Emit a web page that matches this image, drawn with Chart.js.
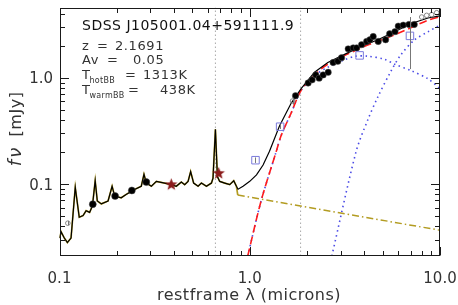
<!DOCTYPE html>
<html lang="en">
<head>
<meta charset="UTF-8">
<title>SED fit</title>
<style>
  body { margin: 0; background: #ffffff; }
  canvas { display: block; }
</style>
</head>
<body>
<canvas id="sed" width="458" height="305"></canvas>

<script src="https://cdn.jsdelivr.net/npm/chart.js"></script>
<script>
// rest-frame wavelength in microns, flux in mJy

// observed spectrum
const specWave = [0.100, 0.102, 0.106, 0.110, 0.115, 0.121, 0.127, 0.133, 0.138, 0.144, 0.149, 0.154, 0.158, 0.166, 0.180,
                  0.189, 0.195, 0.211, 0.224, 0.248, 0.269, 0.278, 0.286, 0.304, 0.323, 0.357, 0.387, 0.411, 0.437, 0.455,
                  0.474, 0.489, 0.507, 0.535, 0.557, 0.592, 0.629, 0.641, 0.660, 0.676, 0.695, 0.739, 0.785, 0.824, 0.851];
const specFlux = [0.0310, 0.0354, 0.0310, 0.0281, 0.0310, 0.0932, 0.0487, 0.0504, 0.0561, 0.0541, 0.0624, 0.1075, 0.0693, 0.0650, 0.0693,
                  0.0953, 0.0771, 0.0743, 0.0799, 0.0888, 0.0953, 0.1236, 0.1021, 0.0953, 0.1059, 0.1021, 0.0987, 0.0953, 0.1043, 0.0987,
                  0.1059, 0.1308, 0.1021, 0.0953, 0.1021, 0.0953, 0.1021, 0.1136, 0.3274, 0.1177, 0.1059, 0.1021, 0.0987, 0.1075, 0.0953];

// total model beyond the spectrum
const modelWave = [0.868, 0.922, 1.000, 1.085, 1.175, 1.270, 1.433, 1.650, 1.862, 2.190, 2.573, 3.150, 3.853, 4.718, 5.776, 7.060, 8.650, 10.0];
const modelFlux = [0.0893, 0.0952, 0.106, 0.122, 0.151, 0.204, 0.352, 0.576, 0.792, 1.128, 1.394, 1.663, 1.980, 2.285, 2.723, 3.254, 3.664, 3.840];

// accretion disk power law
const diskWave = [0.865, 1.849, 10.0];
const diskFlux = [0.0787, 0.0621, 0.0367];

// hot + warm dust (red)
const dustWave = [0.976, 1.147, 1.375, 1.461, 1.650, 1.862, 2.190, 2.573, 3.853, 5.776, 8.650, 10.0];
const dustFlux = [0.021, 0.0693, 0.200, 0.285, 0.466, 0.764, 1.070, 1.345, 1.916, 2.540, 3.490, 3.760];

// hot blackbody
const hotWave = [0.976, 1.147, 1.375, 1.461, 1.650, 1.862, 2.190, 2.573, 3.150, 3.600, 4.180, 5.117, 5.776, 7.060, 8.650, 10.0];
const hotFlux = [0.021, 0.0693, 0.200, 0.285, 0.466, 0.760, 1.050, 1.260, 1.480, 1.600, 1.600, 1.496, 1.345, 1.167, 0.979, 0.792];

// warm blackbody
const warmWave = [2.700, 3.627, 4.180, 4.718, 5.540, 6.250, 7.360, 8.650, 10.0];
const warmFlux = [0.021, 0.204, 0.405, 0.664, 1.167, 1.663, 2.285, 2.720, 3.140];

// photometry
const uvWave = [0.1496, 0.196, 0.240, 0.286];
const uvFlux = [0.0646, 0.0771, 0.0870, 0.1043];
const irWave = [1.740, 2.027, 2.128, 2.225, 2.316, 2.431, 2.584, 2.744, 2.904, 3.038, 3.291, 3.498, 3.644, 3.871,
                4.114, 4.282, 4.456, 4.735, 5.178, 5.436, 5.797, 6.033, 6.410, 6.869, 7.322];
const irFlux = [0.679, 0.894, 0.958, 1.066, 0.994, 1.066, 1.128, 1.394, 1.434, 1.550, 1.876, 1.916, 1.916, 2.055,
                2.204, 2.285, 2.449, 2.204, 2.285, 2.600, 2.724, 3.073, 3.139, 3.186, 3.186];
const starWave = [0.387, 0.687];
const starFlux = [0.0987, 0.126];
const sqWave = [1.072, 1.444, 3.78, 6.95];
const sqFlux = [0.1677, 0.3467, 1.628, 2.486];
const greyWave = [0.1106, 1.678, 8.013, 8.51, 9.04, 9.61];
const greyFlux = [0.0428, 0.605, 3.742, 3.88, 3.94, 4.11];

// error bars
const errWave = [6.95, 1.678, 1.072, 1.444, 0.1106];
const errLo = [1.21, 0.56, 0.158, 0.33, 0.041];
const errHi = [3.74, 0.65, 0.178, 0.365, 0.045];

// dotted vertical markers
const markWave = [0.66, 1.85];

// axes
const xMin = 0.1, xMax = 10;
const yMin = 0.021, yMax = 4.6;
const xMajor = [0.1, 1, 10];
const xLabels = ['0.1', '1.0', '10.0'];
const yMajor = [0.1, 1];
const yLabels = ['0.1', '1.0'];

const pts = (xs, ys) => xs.map((v, i) => ({x: v, y: ys[i]}));

function minorTicks(lo, hi) {
    const out = [];
    for (let d = Math.floor(Math.log10(lo)); d < Math.ceil(Math.log10(hi)); d++) {
        for (let m = 2; m <= 9; m++) {
            const v = m * Math.pow(10, d);
            if (v > lo && v < hi) out.push(v);
        }
    }
    return out;
}

function makeStar(r, color) {
    const c = document.createElement('canvas');
    c.width = c.height = 2 * r + 2;
    const g = c.getContext('2d');
    g.fillStyle = color;
    g.beginPath();
    for (let i = 0; i < 10; i++) {
        const rr = i % 2 ? r * 0.42 : r;
        const a = -Math.PI / 2 + i * Math.PI / 5;
        g.lineTo(r + 1 + rr * Math.cos(a), r + 1 + rr * Math.sin(a));
    }
    g.closePath();
    g.fill();
    return c;
}

const olive = '#b39c22';
const dustBlue = '#4a4ae6';

// frame, inward ticks, labels and annotations
const decor = {
    id: 'decor',
    afterDatasetsDraw(chart) {
        const {ctx, chartArea: a, scales: {x, y}} = chart;
        ctx.save();

        // error bars
        ctx.strokeStyle = '#777777';
        ctx.lineWidth = 1;
        ctx.beginPath();
        errWave.forEach((w, i) => {
            const px = Math.round(x.getPixelForValue(w)) + 0.5;
            ctx.moveTo(px, y.getPixelForValue(errLo[i]));
            ctx.lineTo(px, y.getPixelForValue(errHi[i]));
        });
        ctx.stroke();

        const L = Math.round(a.left) + 0.5, R = Math.round(a.right) - 0.5;
        const T = Math.round(a.top) + 0.5, B = Math.round(a.bottom) - 0.5;
        ctx.strokeStyle = '#1a1a1a';
        ctx.lineWidth = 1;
        ctx.strokeRect(L, T, R - L, B - T);

        ctx.beginPath();
        const xt = (v, len) => {
            const px = Math.round(x.getPixelForValue(v)) + 0.5;
            ctx.moveTo(px, B); ctx.lineTo(px, B - len);
            ctx.moveTo(px, T); ctx.lineTo(px, T + len);
        };
        const yt = (v, len) => {
            const py = Math.round(y.getPixelForValue(v)) + 0.5;
            ctx.moveTo(L, py); ctx.lineTo(L + len, py);
            ctx.moveTo(R, py); ctx.lineTo(R - len, py);
        };
        minorTicks(xMin, xMax).forEach(v => xt(v, 4.5));
        xMajor.forEach(v => xt(v, 8.5));
        minorTicks(yMin, yMax).forEach(v => yt(v, 4.5));
        yMajor.forEach(v => yt(v, 8.5));
        ctx.stroke();

        ctx.fillStyle = '#333333';
        ctx.font = '15px "DejaVu Sans"';
        ctx.textAlign = 'center';
        ctx.textBaseline = 'alphabetic';
        xMajor.forEach((v, i) => ctx.fillText(xLabels[i], x.getPixelForValue(v), 283));
        ctx.textAlign = 'right';
        yMajor.forEach((v, i) => ctx.fillText(yLabels[i], 53, y.getPixelForValue(v) + 5.5));

        // axis titles
        ctx.textAlign = 'center';
        ctx.letterSpacing = '0.5px';
        ctx.font = '16px "DejaVu Sans"';
        ctx.fillText('restframe λ (microns)', 249, 300);
        ctx.save();
        ctx.translate(21, 0);
        ctx.rotate(-Math.PI / 2);
        ctx.fillText('[mJy]', -114, 0);
        ctx.font = 'italic 18px "DejaVu Sans"';
        ctx.letterSpacing = '2px';
        ctx.fillText('fν', -156, 0);
        ctx.restore();

        // annotation block
        ctx.textAlign = 'left';
        ctx.fillStyle = '#111111';
        ctx.letterSpacing = '0.5px';
        ctx.font = '14px "DejaVu Sans"';
        ctx.fillText('SDSS J105001.04+591111.9', 82, 30);
        ctx.fillStyle = '#333333';
        ctx.letterSpacing = '0.6px';
        ctx.font = '13px "DejaVu Sans"';
        ctx.fillText('z', 82, 50); ctx.fillText('=', 97, 50); ctx.fillText('2.1691', 115, 50);
        ctx.fillText('Av', 82, 63.5); ctx.fillText('=', 107, 63.5); ctx.fillText('0.05', 133, 63.5);
        ctx.fillText('T', 82, 79); ctx.fillText('=', 125, 79); ctx.fillText('1313K', 143, 79);
        ctx.fillText('T', 82, 94); ctx.fillText('=', 128, 94); ctx.fillText('438K', 160, 94);
        ctx.font = '8px "DejaVu Sans"';
        ctx.letterSpacing = '0.3px';
        ctx.fillText('hotBB', 89.5, 83);
        ctx.fillText('warmBB', 89.5, 98);
        ctx.restore();
    }
};

const line = (data, color, width, dash, order, tension) => ({
    type: 'line', data, borderColor: color, borderWidth: width, borderDash: dash,
    pointRadius: 0, fill: false, tension: tension || 0, order, showLine: true
});

const ctx = document.getElementById('sed').getContext('2d');

new Chart(ctx, {
    type: 'scatter',
    data: {
        datasets: [
            // markers (top)
            {data: pts(starWave, starFlux), pointStyle: makeStar(6.5, '#8b1c1c'), pointRadius: 6.5, order: 1},
            {data: pts(sqWave, sqFlux), pointStyle: 'rect', pointRadius: 5.3, backgroundColor: 'rgba(0,0,0,0)',
             borderColor: '#7b7bdc', borderWidth: 1, order: 1},
            {data: pts(uvWave, uvFlux), pointStyle: 'circle', pointRadius: 3.5, backgroundColor: '#000000',
             borderColor: '#444444', borderWidth: 0.5, order: 2},
            {data: pts(irWave, irFlux), pointStyle: 'circle', pointRadius: 3.2, backgroundColor: '#000000',
             borderColor: '#555555', borderWidth: 0.5, order: 2},
            {data: pts(greyWave, greyFlux), pointStyle: 'circle', pointRadius: 2.3, backgroundColor: 'rgba(0,0,0,0)',
             borderColor: '#888888', borderWidth: 1, order: 2},
            // curves
            line(pts(specWave, specFlux).concat(pts(modelWave, modelFlux)), '#000000', 1.2, [], 3, 0),
            line(pts(specWave, specFlux).concat([{x: 0.865, y: diskFlux[0]}]), olive, 1.7, [], 4, 0),
            line(pts(diskWave, diskFlux), olive, 1.5, [7, 3, 1.5, 3], 4, 0),
            line(pts(dustWave, dustFlux), '#ff1a1a', 1.6, [8, 4], 5, 0.3),
            line(pts(hotWave, hotFlux), dustBlue, 1.6, [1.5, 3.5], 6, 0.3),
            line(pts(warmWave, warmFlux), dustBlue, 1.6, [1.5, 3.5], 6, 0.3),
            line([{x: markWave[0], y: yMin}, {x: markWave[0], y: yMax}], '#aaaaaa', 1, [1.5, 2.5], 7, 0),
            line([{x: markWave[1], y: yMin}, {x: markWave[1], y: yMax}], '#aaaaaa', 1, [1.5, 2.5], 7, 0)
        ]
    },
    options: {
        responsive: false,
        animation: false,
        layout: {padding: {left: 0, top: 2, right: 18, bottom: 0}},
        plugins: {legend: {display: false}, tooltip: {enabled: false}},
        scales: {
            x: {
                type: 'logarithmic', min: xMin, max: xMax,
                grid: {display: false}, border: {display: false}, ticks: {display: false},
                afterFit: s => { s.height = 49; }
            },
            y: {
                type: 'logarithmic', min: yMin, max: yMax,
                grid: {display: false}, border: {display: false}, ticks: {display: false},
                afterFit: s => { s.width = 59.5; }
            }
        }
    },
    plugins: [decor]
});
</script>
</body>
</html>
